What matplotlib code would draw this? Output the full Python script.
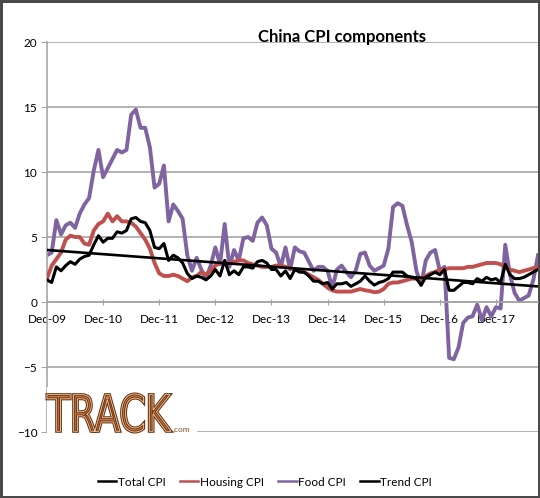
import matplotlib
matplotlib.use("Agg")
import matplotlib.pyplot as plt
from matplotlib.textpath import TextPath
from matplotlib.patches import PathPatch, Rectangle
from matplotlib.font_manager import FontProperties
from matplotlib.transforms import Affine2D
import numpy as np

# monthly readings, Dec-09 .. Sep-18
total_cpi = [1.7, 1.5, 2.7, 2.4, 2.8, 3.1, 2.9, 3.3, 3.5, 3.6, 4.4, 5.1,
             4.6, 4.9, 4.9, 5.4, 5.3, 5.5, 6.4, 6.5, 6.2, 6.1, 5.5, 4.2,
             4.1, 4.5, 3.2, 3.6, 3.4, 3.0, 2.2, 1.8, 2.0, 1.9, 1.7, 2.0,
             2.5, 2.0, 3.2, 2.1, 2.4, 2.1, 2.7, 2.7, 2.6, 3.1, 3.2, 3.0,
             2.5, 2.5, 2.0, 2.4, 1.8, 2.5, 2.3, 2.3, 2.0, 1.6, 1.6, 1.4,
             1.5, 1.0, 1.4, 1.4, 1.5, 1.2, 1.4, 1.6, 2.0, 1.6, 1.3, 1.5,
             1.6, 1.8, 2.3, 2.3, 2.3, 2.0, 1.9, 1.8, 1.3, 1.9, 2.1, 2.3,
             2.1, 2.5, 0.9, 0.9, 1.2, 1.5, 1.5, 1.4, 1.8, 1.6, 1.9, 1.7,
             1.8, 1.5, 2.9, 2.1, 1.8, 1.8, 1.9, 2.1, 2.3, 2.5]
housing_cpi = [1.8, 2.8, 3.3, 3.8, 4.8, 5.1, 5.0, 5.0, 4.5, 4.4, 5.5, 6.0,
               6.2, 6.8, 6.2, 6.6, 6.2, 6.2, 6.1, 5.8, 5.3, 4.8, 4.1, 3.0,
               2.2, 2.0, 2.0, 2.1, 2.0, 1.8, 1.6, 1.9, 2.0, 2.3, 2.1, 2.4,
               2.8, 3.0, 3.0, 3.0, 3.1, 3.2, 3.2, 3.0, 2.9, 2.8, 2.7, 2.7,
               2.7, 2.8, 2.8, 2.7, 2.6, 2.5, 2.4, 2.3, 2.1, 1.9, 1.7, 1.4,
               1.1, 0.9, 0.8, 0.8, 0.8, 0.8, 0.9, 1.0, 0.9, 0.85, 0.75, 0.8,
               1.0, 1.4, 1.5, 1.5, 1.6, 1.7, 1.8, 1.8, 1.8, 2.0, 2.2, 2.3,
               2.5, 2.5, 2.6, 2.6, 2.6, 2.6, 2.7, 2.7, 2.8, 2.9, 3.0, 3.0,
               3.0, 2.9, 2.7, 2.5, 2.4, 2.3, 2.4, 2.5, 2.6, 2.7]
food_cpi = [3.6, 3.8, 6.3, 5.2, 5.9, 6.1, 5.7, 6.8, 7.5, 8.0, 10.1, 11.7,
            9.6, 10.3, 11.0, 11.7, 11.5, 11.7, 14.4, 14.8, 13.4, 13.4, 11.9, 8.8,
            9.1, 10.5, 6.2, 7.5, 7.0, 6.4, 3.6, 2.4, 3.4, 2.5, 1.8, 2.8,
            4.2, 2.9, 6.0, 2.7, 4.0, 3.2, 4.9, 5.0, 4.7, 6.1, 6.5, 5.9,
            4.1, 3.8, 2.7, 4.2, 2.5, 4.2, 3.9, 3.8, 3.1, 2.4, 2.7, 2.7,
            2.4, 1.1, 2.5, 2.8, 2.3, 1.9, 2.4, 3.7, 3.8, 2.8, 2.4, 2.6,
            2.8, 4.1, 7.3, 7.6, 7.4, 5.9, 4.6, 2.4, 1.3, 3.2, 3.8, 4.0,
            2.4, 2.7, -4.3, -4.4, -3.5, -1.6, -1.2, -1.1, -0.2, -1.4, -0.4, -1.1,
            -0.4, -0.5, 4.4, 2.1, 0.7, 0.1, 0.3, 0.5, 1.7, 3.6]
# trend line end points (first and last month)
trend_months = [0, 105]
trend_cpi = [4.0, 1.2]

tick_labels = ['Dec-09', 'Dec-10', 'Dec-11', 'Dec-12', 'Dec-13',
               'Dec-14', 'Dec-15', 'Dec-16', 'Dec-17']

months = np.arange(len(food_cpi))
plt.rcParams['font.family'] = ['Lato', 'DejaVu Sans']
grid_c = '#a6a6a6'

fig = plt.figure(figsize=(5.4, 4.98), dpi=100)
fig.patch.set_edgecolor('#4a4a4a')
fig.patch.set_linewidth(2.5)
ax = fig.add_axes([47 / 540, 1 - 432 / 498, 491 / 540, 390 / 498])

_ = ax.plot(months, total_cpi, color='black', lw=2.2, label='Total CPI', zorder=4)
_ = ax.plot(months, housing_cpi, color='#c0504d', lw=2.8, label='Housing CPI', zorder=3)
_ = ax.plot(months, food_cpi, color='#8064a2', lw=2.8, label='Food CPI', zorder=2)
_ = ax.plot(trend_months, trend_cpi, color='black', lw=1.9, label='Trend CPI', zorder=5)

_ = ax.set_xlim(0, 105)
_ = ax.set_ylim(-10, 20)
_ = ax.set_yticks(range(-10, 21, 5))
_ = ax.set_xticks(range(0, 97, 12))
_ = ax.set_xticklabels(tick_labels)
ax.yaxis.grid(True, color=grid_c, lw=1.2)
ax.set_axisbelow(True)

for spine in ['top', 'right']:
    ax.spines[spine].set_visible(False)
ax.spines['left'].set_color(grid_c)
ax.spines['left'].set_linewidth(1.2)
ax.spines['bottom'].set_position(('data', 0))
ax.spines['bottom'].set_color(grid_c)
ax.spines['bottom'].set_linewidth(1.2)
ax.tick_params(axis='y', length=4, color=grid_c, pad=3, labelsize=8.5)
ax.tick_params(axis='x', direction='inout', length=5, color=grid_c, pad=6, labelsize=8.5)

fig.text(342 / 540, 1 - 42 / 498, 'China CPI components', ha='center',
         va='baseline', fontsize=12, fontweight='bold')

# TRACK.com logo, bottom left of the plot
fig.patches.append(Rectangle((47 / 540, 1 - 442 / 498), 150 / 540, 55 / 498,
                             transform=fig.transFigure, facecolor='white',
                             edgecolor='none', zorder=6))
tp = TextPath((0, 0), 'TRACK', size=1, prop=FontProperties(family='DejaVu Sans'))
bb = tp.get_extents()
sx = 124 / bb.width
sy = 38 / bb.height
tr = Affine2D().translate(-bb.x0, -bb.y0).scale(sx, sy).translate(47, 498 - 432)
logo_path = tr.transform_path(tp)
fig.patches.append(PathPatch(logo_path, facecolor='#d98c55', edgecolor='#6e3510',
                             lw=2.2, transform=None, zorder=7))
fig.patches.append(PathPatch(logo_path, facecolor='none', edgecolor='#f6d2b0',
                             lw=0.6, transform=None, zorder=8))
fig.text(173 / 540, 1 - 432 / 498, '.com', fontsize=6, color='#8b4a20',
         va='baseline', zorder=8)

leg = fig.legend(loc='center', bbox_to_anchor=(0.49, 1 - 482 / 498), ncol=4,
                 frameon=False, fontsize=8.5, handlelength=1.6, handletextpad=0.1,
                 columnspacing=1.2)
for line in leg.get_lines():
    line.set_linewidth(1.8)

fig.savefig('out.png', dpi=100, edgecolor=fig.get_edgecolor())
